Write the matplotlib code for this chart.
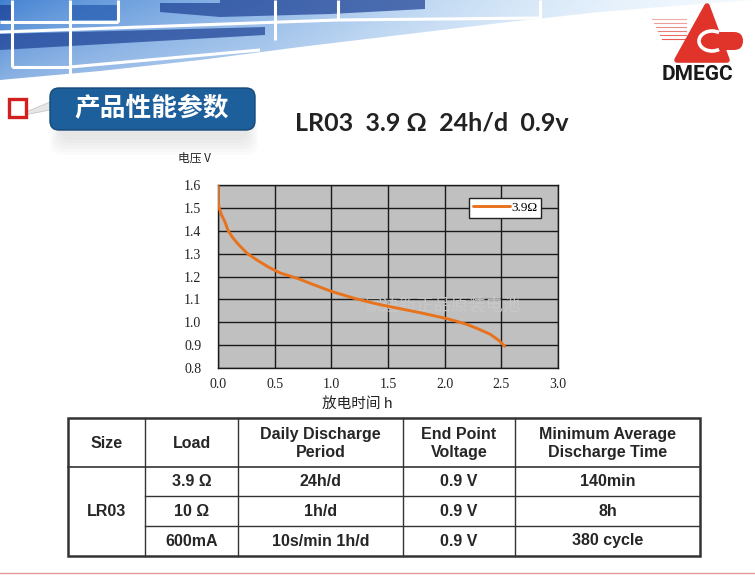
import numpy as np
import matplotlib
matplotlib.use("Agg")
import matplotlib.pyplot as plt
from matplotlib.patches import Polygon, FancyBboxPatch, Rectangle, Arc

plt.rcParams['font.family'] = ['Noto Sans CJK SC', 'DejaVu Sans']

# discharge curve of LR03 at 3.9 ohm
hours = [0.0, 0.0, 0.01, 0.03, 0.06, 0.09, 0.13, 0.18, 0.26, 0.35, 0.45, 0.55,
         0.7, 0.85, 1.0, 1.2, 1.4, 1.6, 1.8, 2.0, 2.1, 2.2, 2.3, 2.4, 2.48, 2.53]
volts = [1.6, 1.53, 1.5, 1.47, 1.44, 1.40, 1.37, 1.34, 1.30, 1.27, 1.24, 1.215,
         1.192, 1.163, 1.135, 1.105, 1.08, 1.06, 1.04, 1.018, 1.005, 0.99, 0.97,
         0.948, 0.92, 0.895]
series_name = "3.9Ω"
x_ticks = [0.0, 0.5, 1.0, 1.5, 2.0, 2.5, 3.0]
y_ticks = [0.8, 0.9, 1.0, 1.1, 1.2, 1.3, 1.4, 1.5, 1.6]

# table
header = ["Size", "Load", "Daily Discharge\nPeriod", "End Point\nVoltage",
          "Minimum Average\nDischarge Time"]
size_name = "LR03"
loads = ["3.9 Ω", "10 Ω", "600mA"]
periods = ["24h/d", "1h/d", "10s/min 1h/d"]
end_volts = ["0.9 V", "0.9 V", "0.9 V"]
min_times = ["140min", "8h", "380 cycle"]

title = "LR03  3.9 Ω  24h/d  0.9v"
tab_title = "产品性能参数"

fig = plt.figure(figsize=(7.55, 5.85), dpi=100)
bg = fig.add_axes([0, 0, 1, 1])
bg.set_xlim(0, 755)
bg.set_ylim(585, 0)
bg.axis('off')

# ---- header banner ----
kx = [0, 100, 200, 300, 400, 500, 600, 700, 755]
ky = [80, 71, 60, 47, 35, 23, 12, 4, 0]
bx = np.linspace(0, 755, 300)
by = np.interp(bx, kx, ky)
banner = Polygon(np.column_stack([np.r_[bx, 755, 0], np.r_[by, -1, -1]]),
                 closed=True, facecolor='none', edgecolor='none')
bg.add_patch(banner)
W, H = 755, 85
xx, yy = np.meshgrid(np.arange(W), np.arange(H))
t = (xx / W) ** 0.7
left = np.array([0.25, 0.50, 0.82])
right = np.array([0.90, 0.96, 1.0])
img = left[None, None, :] * (1 - t[..., None]) + right[None, None, :] * t[..., None]
img = img + (1 - img) * (0.4 * yy / H)[..., None]
alpha = np.clip(1.35 - xx / W, 0.45, 1.0)
im = bg.imshow(np.dstack([img, alpha]), extent=[0, 755, 85, 0], zorder=1,
               interpolation='bilinear')
im.set_clip_path(banner)

navy = '#1b3f93'
for pts in ([(160, 3), (220, 3), (220, 0), (425, 0), (425, 9), (330, 14), (220, 17), (160, 12)],
            [(0, 34), (265, 27), (265, 35), (0, 50)],
            [(0, 5), (12, 5), (12, 20), (0, 20)]):
    bg.add_patch(Polygon(pts, closed=True, facecolor=navy, alpha=0.7,
                         edgecolor='none', zorder=2))
bg.add_patch(Polygon([(72, 5), (118, 5), (118, 20), (72, 20)], closed=True,
                     facecolor='#2c62b5', alpha=0.8, edgecolor='none', zorder=2))

white_lines = [([12, 12], [0, 67]), ([12, 70], [67, 67]), ([70, 70], [0, 75]),
               ([0, 118], [22, 22]), ([118, 118], [0, 22]),
               ([0, 338, 540], [32, 20, 18]), ([540, 540], [0, 18]),
               ([275, 275], [0, 40]), ([338, 338], [0, 20]),
               ([70, 260], [67, 50])]
for lx, ly in white_lines:
    bg.plot(lx, ly, color='white', lw=2.2, zorder=3, solid_capstyle='butt')

# ---- logo ----
red = '#e0342a'
for i, yl in enumerate([19, 23, 27, 31, 35, 39]):
    bg.plot([652 + i * 2, 686], [yl, yl], color=red, lw=0.8, alpha=0.4 + i * 0.08, zorder=3)
bg.add_patch(Polygon([(707, 6), (677, 60), (727, 60)], closed=True, facecolor=red,
                     edgecolor=red, lw=4, joinstyle='round', zorder=4))
bg.add_patch(FancyBboxPatch((705, 32), 38, 18, boxstyle="round,pad=0,rounding_size=9",
                            facecolor=red, edgecolor='none', zorder=4))
bg.add_patch(Arc((712, 41), 26, 20, theta1=50, theta2=310, color='white', lw=2.6, zorder=5))
bg.text(697, 74, "DMEGC", ha='center', va='center', fontsize=15, fontweight='bold',
        family=['Roboto', 'DejaVu Sans'], color='#1a1a1a', zorder=5)

# ---- section tab ----
for k in range(6):
    bg.add_patch(FancyBboxPatch((60 - k * 2, 104 + k * 3), 188 + k * 4, 36,
                                boxstyle="round,pad=0,rounding_size=12",
                                facecolor='#909090', alpha=0.035, edgecolor='none', zorder=2))
bg.add_patch(FancyBboxPatch((50, 88), 205, 42, boxstyle="round,pad=0,rounding_size=9",
                            facecolor='#1d5f9a', edgecolor='#15497a', lw=1, zorder=3))
bg.text(152, 108, tab_title, ha='center', va='center', fontsize=18.5, fontweight='bold',
        color='white', zorder=4)
bg.add_patch(Polygon([(14, 117), (50, 102), (50, 110)], closed=True, facecolor='#e6e6e6',
                     edgecolor='#c8c8c8', lw=0.6, zorder=2))
bg.add_patch(Rectangle((9, 99), 17, 18, facecolor='white', edgecolor='#d21f1f', lw=2.4, zorder=3))

bg.text(295, 123, title, ha='left', va='center', fontsize=18, fontweight='bold',
        family=['Lato', 'DejaVu Sans'], color='#222222')

# ---- chart ----
ax = fig.add_axes([218 / 755, 1 - 368 / 585, 340 / 755, 183 / 585])
ax.set_facecolor('#c0c0c0')
ax.set_xlim(0, 3.0)
ax.set_ylim(0.8, 1.6)
ax.set_xticks(x_ticks)
ax.set_yticks(y_ticks)
ax.set_xticklabels([f"{v:.1f}" for v in x_ticks])
ax.set_yticklabels([f"{v:.1f}" for v in y_ticks])
ax.grid(True, color='#1a1a1a', lw=1.0)
ax.set_axisbelow(True)
for s in ax.spines.values():
    s.set_color('#1a1a1a')
    s.set_linewidth(1.0)
ax.tick_params(length=0, pad=7, labelsize=10, colors='#222222')
for lab in ax.get_xticklabels() + ax.get_yticklabels():
    lab.set_family('Liberation Serif')
ax.tick_params(axis='y', pad=12)
ax.text(1.99, 1.075, "家迪新正品原装电池", ha='center', va='center', fontsize=12.5,
        color='#c9c9c9', alpha=0.9, zorder=1)
ax.plot(hours, volts, color='#e8731c', lw=2.1, label=series_name, zorder=3,
        solid_capstyle='round')
leg = ax.legend(loc='upper right', bbox_to_anchor=(0.95, 0.93), borderaxespad=0,
                fancybox=False, framealpha=1, edgecolor='#222222', handlelength=2.8,
                handletextpad=0.1, borderpad=0.3, prop={'family': 'Liberation Serif', 'size': 9.5})
leg.get_frame().set_linewidth(1.0)

bg.text(178, 158, "电压 V", ha='left', va='center', fontsize=8.5, color='#222222')
bg.text(357, 404, "放电时间 h", ha='center', va='center', fontsize=10.5, color='#222222')

# ---- table ----
col_x = [68, 145, 238, 403, 515, 700]
row_y = [418, 467, 496, 526, 556]
tf = dict(family=['Liberation Sans', 'DejaVu Sans'], fontweight='bold', fontsize=11.5,
          color='#262626', ha='center', va='center')
bg.add_patch(Rectangle((col_x[0], row_y[0]), col_x[-1] - col_x[0], row_y[-1] - row_y[0],
                       facecolor='white', edgecolor='#333333', lw=1.8, zorder=3))
bg.plot([col_x[0], col_x[-1]], [row_y[1], row_y[1]], color='#333333', lw=1.2, zorder=4)
for yl in row_y[2:4]:
    bg.plot([col_x[1], col_x[-1]], [yl, yl], color='#333333', lw=1.0, zorder=4)
for xl in col_x[1:-1]:
    bg.plot([xl, xl], [row_y[0], row_y[-1]], color='#333333', lw=1.0, zorder=4)
for i, h in enumerate(header):
    bg.text((col_x[i] + col_x[i + 1]) / 2, (row_y[0] + row_y[1]) / 2 + 1, h,
            linespacing=1.25, zorder=5, **tf)
bg.text((col_x[0] + col_x[1]) / 2, (row_y[1] + row_y[-1]) / 2, size_name, zorder=5, **tf)
for r in range(3):
    yc = (row_y[r + 1] + row_y[r + 2]) / 2
    for c, col in enumerate([loads, periods, end_volts, min_times]):
        bg.text((col_x[c + 1] + col_x[c + 2]) / 2, yc, col[r], zorder=5, **tf)

bg.plot([0, 755], [573, 573], color='#e39a9a', lw=1.0)

fig.savefig("out.png", dpi=100)
